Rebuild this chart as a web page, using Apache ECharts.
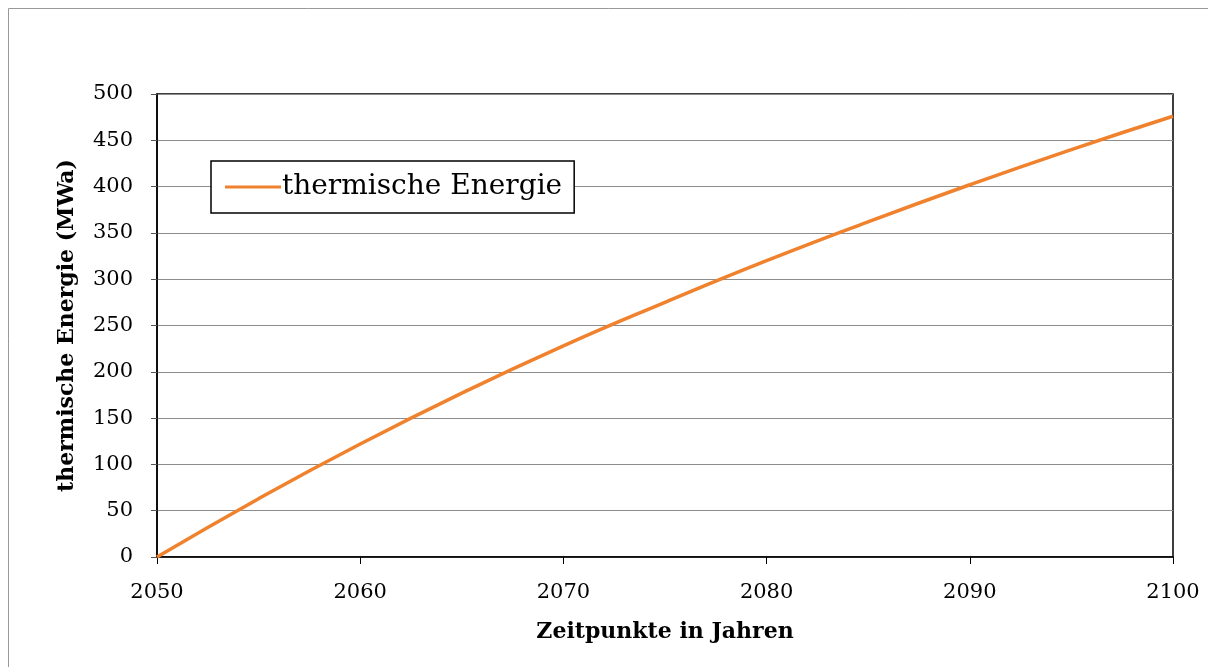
<!DOCTYPE html>
<html>
<head>
<meta charset="utf-8">
<script src="https://cdn.jsdelivr.net/npm/echarts@6/dist/echarts.min.js"></script>
<style>
  html, body { margin: 0; padding: 0; background: #fff; }
  #chart { width: 1208px; height: 667px; }
</style>
</head>
<body>
<div id="chart"></div>
<script>
// Jahre und thermische Energie (MWa)
var years = [2050, 2055, 2060, 2065, 2070, 2075, 2080, 2085, 2090, 2095, 2100];
var energy = [0, 63, 122, 177, 228, 275, 320, 362, 402, 440, 476];
var seriesName = 'thermische Energie';

var font = 'DejaVu Serif';
var points = [];
for (var i = 0; i < years.length; i++) {
  points.push([years[i], energy[i]]);
}

var myChart = echarts.init(document.getElementById('chart'));
myChart.setOption({
  animation: false,
  backgroundColor: '#fff',
  graphic: [{
    type: 'rect',
    shape: { x: 8.5, y: 8.5, width: 1220, height: 680 },
    style: { fill: 'none', stroke: '#999', lineWidth: 1 }
  }],
  grid: {
    left: 157, right: 35, top: 94, bottom: 110,
    show: true, borderColor: '#000', borderWidth: 1.5
  },
  legend: {
    left: 211, top: 161,
    orient: 'vertical',
    padding: [12, 12, 12, 14],
    borderColor: '#000', borderWidth: 1.5,
    backgroundColor: '#fff',
    itemWidth: 56, itemHeight: 3, itemGap: 0,
    icon: 'rect',
    textStyle: { fontFamily: font, fontSize: 28, color: '#000', padding: [0, 0, 0, -4] },
    data: [seriesName]
  },
  xAxis: {
    type: 'value',
    min: 2050, max: 2100, interval: 10,
    name: 'Zeitpunkte in Jahren',
    nameLocation: 'middle',
    nameGap: 64,
    nameTextStyle: { fontFamily: font, fontSize: 22, fontWeight: 'bold', color: '#000' },
    axisLine: { lineStyle: { color: '#000', width: 1.5 } },
    axisTick: { show: true, length: 7, lineStyle: { color: '#000', width: 1 } },
    axisLabel: {
      fontFamily: font, fontSize: 21, color: '#000', margin: 25,
      formatter: function (v) { return String(v); }
    },
    splitLine: { show: false }
  },
  yAxis: {
    type: 'value',
    min: 0, max: 500, interval: 50,
    name: 'thermische Energie (MWa)',
    nameLocation: 'middle',
    nameGap: 79,
    nameTextStyle: { fontFamily: font, fontSize: 22, fontWeight: 'bold', color: '#000' },
    axisLine: { show: true, lineStyle: { color: '#000', width: 1.5 } },
    axisTick: { show: true, length: 6, lineStyle: { color: '#555', width: 1 } },
    axisLabel: { fontFamily: font, fontSize: 21, color: '#000', margin: 24 },
    splitLine: { show: true, lineStyle: { color: '#8c8c8c', width: 1 } }
  },
  series: [{
    name: seriesName,
    type: 'line',
    data: points,
    smooth: true,
    showSymbol: false,
    lineStyle: { color: '#f0822e', width: 3.5 },
    itemStyle: { color: '#f0822e' }
  }]
});
</script>
</body>
</html>
